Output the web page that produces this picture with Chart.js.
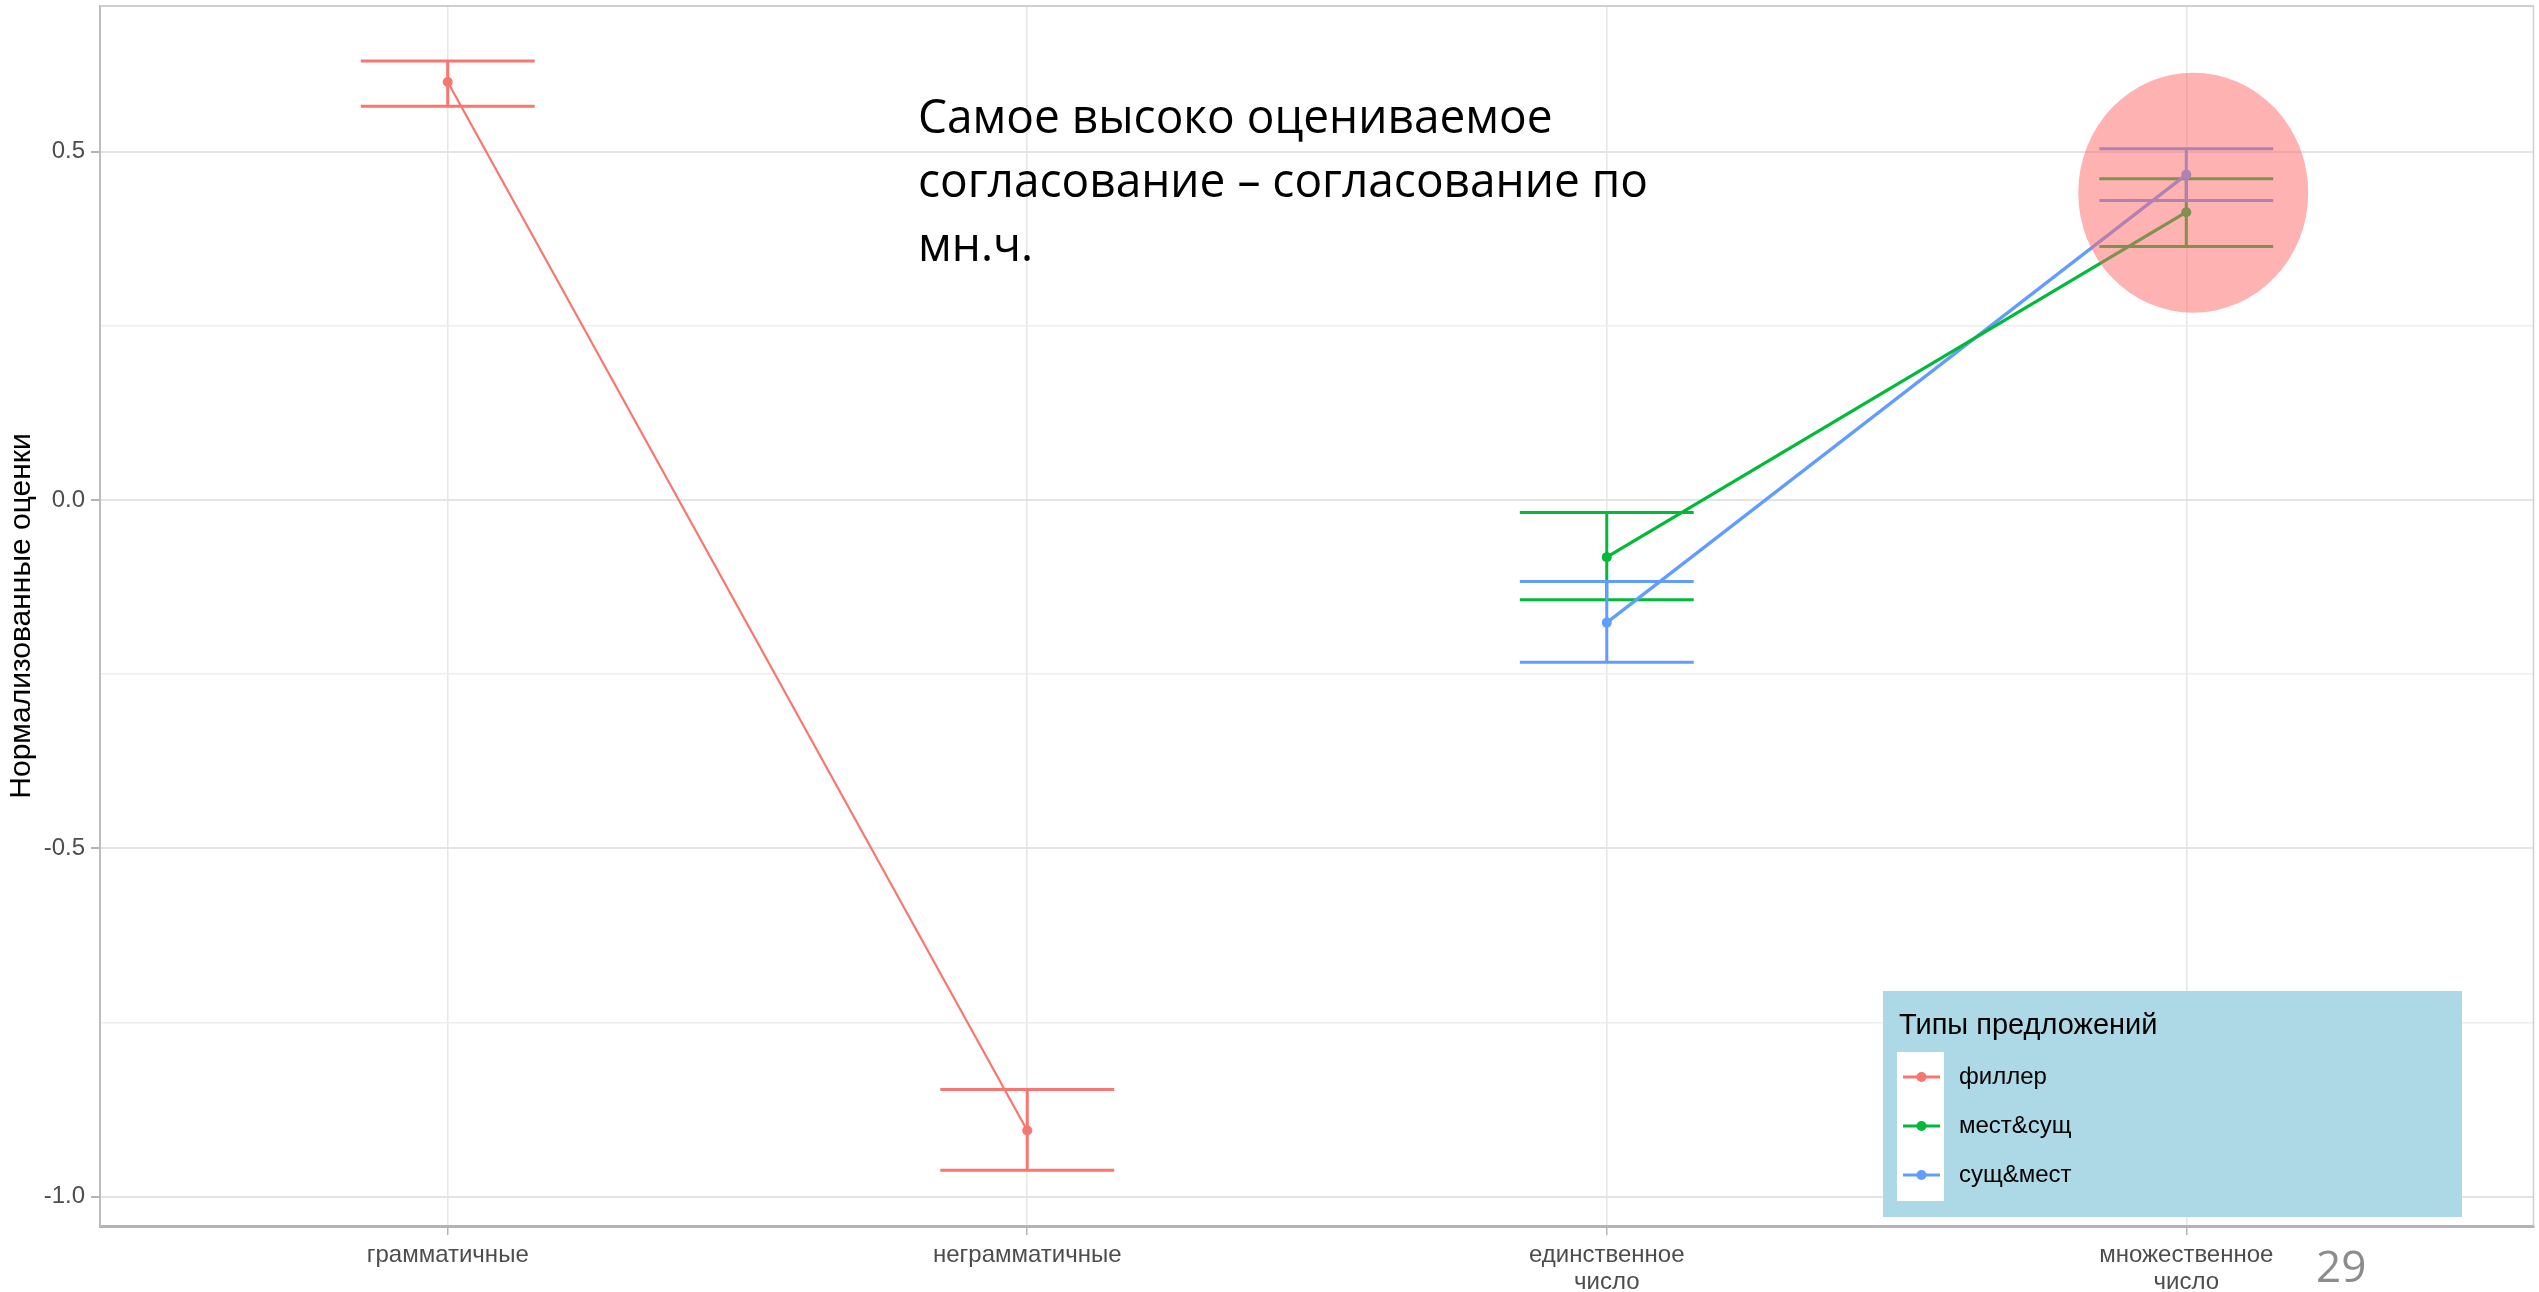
<!DOCTYPE html>
<html>
<head>
<meta charset="utf-8">
<script src="https://cdn.jsdelivr.net/npm/chart.js@4.4.0/dist/chart.umd.min.js"></script>
<style>
    html, body { margin: 0; padding: 0; background: #ffffff; }
</style>
</head>
<body>
<canvas id="chart" width="2539" height="1292"></canvas>
<script>
// categories on the x axis (multi-line labels)
const categories = [["грамматичные"], ["неграмматичные"], ["единственное", "число"], ["множественное", "число"]];
const seriesNames = ["филлер", "мест&сущ", "сущ&мест"];

// филлер
const fillerX = [1, 2];
const fillerMean = [0.600, -0.905];
const fillerLow = [0.565, -0.962];
const fillerHigh = [0.630, -0.846];

// мест&сущ
const mestX = [3, 4];
const mestMean = [-0.082, 0.413];
const mestLow = [-0.143, 0.364];
const mestHigh = [-0.018, 0.461];

// сущ&мест
const sushX = [3, 4];
const sushMean = [-0.176, 0.467];
const sushLow = [-0.233, 0.430];
const sushHigh = [-0.117, 0.504];

const yMajorTicks = [-1.0, -0.5, 0.0, 0.5];
const yMinorTicks = [-0.75, -0.25, 0.25];
const yRange = [-1.042, 0.709];
const xRange = [0.4, 4.6];

const highlightCenter = [4.012, 0.441];
const noteLines = ["Самое высоко оцениваемое", "согласование – согласование по", "мн.ч."];
const slideNumber = "29";

const colors = ["#F8766D", "#00BA38", "#619CFF"];
const errHalfWidth = 0.15;

function toPoints(xs, ys) {
    return xs.map((x, i) => ({x: x, y: ys[i]}));
}

function makeDataset(idx, xs, mean, low, high, width) {
    return {
        label: seriesNames[idx],
        data: toPoints(xs, mean),
        low: low,
        high: high,
        xs: xs,
        borderColor: colors[idx],
        backgroundColor: colors[idx],
        borderWidth: width,
        pointRadius: 5,
        pointBorderWidth: 0,
        pointBackgroundColor: colors[idx],
        tension: 0
    };
}

// error bars + top/right panel border
const errorBarPlugin = {
    id: "errorBars",
    beforeDatasetsDraw(chart) {
        const ctx = chart.ctx;
        const xs = chart.scales.x, ys = chart.scales.y;
        const a = chart.chartArea;

        ctx.save();
        ctx.strokeStyle = "#cfcfcf";
        ctx.lineWidth = 2;
        ctx.beginPath();
        ctx.moveTo(a.left, a.top);
        ctx.lineTo(a.right, a.top);
        ctx.stroke();
        ctx.lineWidth = 1.5;
        ctx.beginPath();
        ctx.moveTo(a.right - 0.5, a.top);
        ctx.lineTo(a.right - 0.5, a.bottom);
        ctx.stroke();

        chart.data.datasets.forEach((ds) => {
            ctx.strokeStyle = ds.borderColor;
            ctx.lineWidth = 3;
            ds.xs.forEach((xv, i) => {
                const cx = xs.getPixelForValue(xv);
                const x0 = xs.getPixelForValue(xv - errHalfWidth);
                const x1 = xs.getPixelForValue(xv + errHalfWidth);
                const yl = ys.getPixelForValue(ds.low[i]);
                const yh = ys.getPixelForValue(ds.high[i]);
                ctx.beginPath();
                ctx.moveTo(x0, yh); ctx.lineTo(x1, yh);
                ctx.moveTo(x0, yl); ctx.lineTo(x1, yl);
                ctx.moveTo(cx, yh); ctx.lineTo(cx, yl);
                ctx.stroke();
            });
        });
        ctx.restore();
    }
};

// highlight circle, note text, legend, slide number
const overlayPlugin = {
    id: "overlay",
    afterDraw(chart) {
        const ctx = chart.ctx;
        const xs = chart.scales.x, ys = chart.scales.y;
        ctx.save();

        // red highlight
        ctx.fillStyle = "rgba(255, 102, 102, 0.5)";
        ctx.beginPath();
        ctx.ellipse(xs.getPixelForValue(highlightCenter[0]), ys.getPixelForValue(highlightCenter[1]), 115, 120, 0, 0, Math.PI * 2);
        ctx.fill();

        // note
        ctx.fillStyle = "#000000";
        ctx.font = "47px 'Open Sans'";
        ctx.textBaseline = "alphabetic";
        ctx.textAlign = "left";
        const squeeze = 730 / ctx.measureText(noteLines[1]).width;
        noteLines.forEach((line, i) => {
            ctx.save();
            ctx.translate(918, 133 + i * 64);
            ctx.scale(squeeze, 1);
            ctx.fillText(line, 0, 0);
            ctx.restore();
        });

        // legend
        const lx = 1883, ly = 991, lw = 579, lh = 226;
        ctx.fillStyle = "#ADD8E6";
        ctx.fillRect(lx, ly, lw, lh);
        ctx.fillStyle = "#000000";
        ctx.font = "29px 'Liberation Sans'";
        ctx.textBaseline = "middle";
        ctx.fillText("Типы предложений", 1899, 1026);
        ctx.fillStyle = "#ffffff";
        ctx.fillRect(1897, 1052, 47, 149);
        ctx.font = "24px 'Liberation Sans'";
        seriesNames.forEach((name, i) => {
            const y = 1077 + i * 49;
            ctx.strokeStyle = colors[i];
            ctx.fillStyle = colors[i];
            ctx.lineWidth = 3;
            ctx.beginPath();
            ctx.moveTo(1903, y); ctx.lineTo(1940, y);
            ctx.stroke();
            ctx.beginPath();
            ctx.arc(1921.5, y, 5, 0, Math.PI * 2);
            ctx.fill();
            ctx.fillStyle = "#000000";
            ctx.fillText(name, 1959, y);
        });

        // slide number
        ctx.fillStyle = "#8c8c8c";
        ctx.font = "44px 'Open Sans'";
        ctx.textBaseline = "alphabetic";
        ctx.fillText(slideNumber, 2316, 1282);

        ctx.restore();
    }
};

Chart.defaults.font.family = "'Liberation Sans', Arial, sans-serif";
Chart.defaults.color = "#4d4d4d";

new Chart(document.getElementById("chart"), {
    type: "line",
    data: {
        datasets: [
            makeDataset(0, fillerX, fillerMean, fillerLow, fillerHigh, 2.2),
            makeDataset(1, mestX, mestMean, mestLow, mestHigh, 3.2),
            makeDataset(2, sushX, sushMean, sushLow, sushHigh, 3.2)
        ]
    },
    options: {
        responsive: false,
        animation: false,
        devicePixelRatio: 1,
        layout: { padding: { top: 6, right: 1, left: 0, bottom: 0 } },
        plugins: { legend: { display: false }, tooltip: { enabled: false } },
        scales: {
            x: {
                type: "linear",
                min: xRange[0],
                max: xRange[1],
                afterBuildTicks: (scale) => {
                    scale.ticks = categories.map((c, i) => ({value: i + 1}));
                },
                afterFit: (scale) => {
                    scale.height = 66;
                    scale.paddingLeft = 0;
                    scale.paddingRight = 0;
                },
                ticks: {
                    autoSkip: false,
                    maxRotation: 0,
                    padding: 7,
                    color: "#4d4d4d",
                    font: { size: 24, lineHeight: 1.125 },
                    callback: (value) => categories[Math.round(value) - 1]
                },
                grid: {
                    color: "#e6e6e6",
                    lineWidth: 1.5,
                    tickLength: 9,
                    tickColor: "#b3b3b3"
                },
                border: { color: "#b3b3b3", width: 3 }
            },
            y: {
                type: "linear",
                min: yRange[0],
                max: yRange[1],
                afterBuildTicks: (scale) => {
                    scale.ticks = yMinorTicks.concat(yMajorTicks).sort((a, b) => a - b).map((v) => ({value: v}));
                },
                afterFit: (scale) => {
                    scale.width = 100;
                    scale.paddingTop = 0;
                    scale.paddingBottom = 0;
                },
                ticks: {
                    padding: 6,
                    color: "#4d4d4d",
                    font: { size: 24 },
                    callback: (value) => yMajorTicks.includes(value) ? value.toFixed(1) : ""
                },
                grid: {
                    color: (c) => yMajorTicks.includes(c.tick.value) ? "#e4e4e4" : "#eeeeee",
                    lineWidth: (c) => yMajorTicks.includes(c.tick.value) ? 2 : 1.5,
                    tickLength: 9,
                    tickColor: (c) => yMajorTicks.includes(c.tick.value) ? "#b3b3b3" : "rgba(0,0,0,0)"
                },
                border: { color: "#bdbdbd", width: 2 },
                title: {
                    display: true,
                    text: "Нормализованные оценки",
                    color: "#000000",
                    font: { size: 30 },
                    padding: { top: 4, bottom: 0 }
                }
            }
        }
    },
    plugins: [errorBarPlugin, overlayPlugin]
});
</script>
</body>
</html>
